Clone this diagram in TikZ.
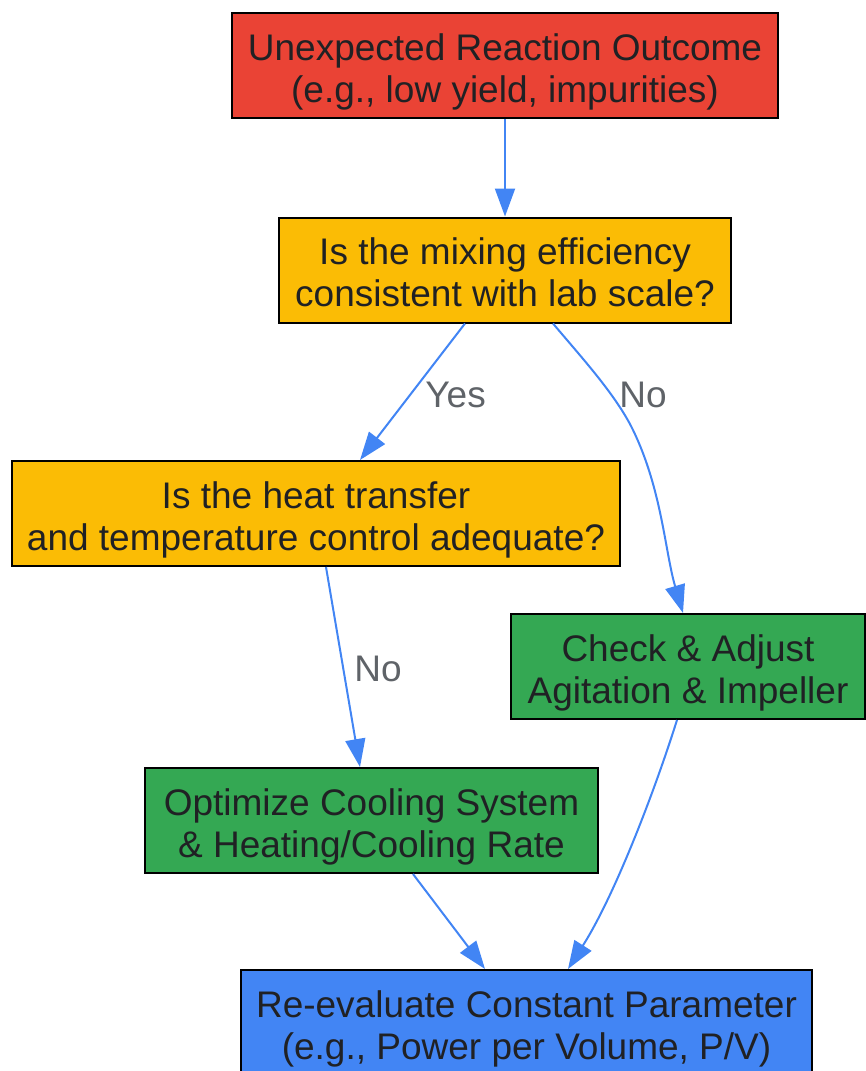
\documentclass[tikz,border=0pt]{standalone}
\usepackage{fontspec}
\setmainfont{Liberation Sans}
\usetikzlibrary{arrows.meta}
\definecolor{outred}{HTML}{EA4335}
\definecolor{askyellow}{HTML}{FBBC05}
\definecolor{fixgreen}{HTML}{34A853}
\definecolor{endblue}{HTML}{4285F4}
\definecolor{boxtext}{HTML}{202124}
\definecolor{edgegray}{HTML}{5F6368}
\begin{document}
\begin{tikzpicture}[x=1pt, y=-1pt,
			every node/.style = {align=center, font=\fontsize{37}{42}\selectfont},
			box/.style = {draw=black, line width=2pt, text=boxtext, inner sep=0pt,
				minimum height=105pt, text height=80pt, text depth=7pt},
			link/.style = {draw=endblue, line width=2pt, -{Triangle[length=28pt, width=20pt]}},
			edgelabel/.style = {text=edgegray, inner sep=0pt}]
			
			\useasboundingbox (0,0) rectangle (865,1071);
			
			\node[box, fill=outred, minimum width=546pt] (outcome) at (505,65.5) {Unexpected Reaction Outcome\\(e.g., low yield, impurities)};
			\node[box, fill=askyellow, minimum width=452pt] (mixing) at (505,270) {Is the mixing efficiency\\consistent with lab scale?};
			\node[box, fill=askyellow, minimum width=608pt] (heat) at (316,513.5) {Is the heat transfer\\and temperature control adequate?};
			\node[box, fill=fixgreen, minimum width=354pt] (agitation) at (688,666.5) {Check \& Adjust\\Agitation \& Impeller};
			\node[box, fill=fixgreen, minimum width=453pt] (cooling) at (371.5,820.5) {Optimize Cooling System\\\& Heating/Cooling Rate};
			\node[box, fill=endblue, minimum width=571pt] (reeval) at (526.5,1022.5) {Re-evaluate Constant Parameter\\(e.g., Power per Volume, P/V)};
			
			\draw[link] (outcome) -- (mixing);
			\draw[link] ([xshift=-40pt]mixing.south) -- ([xshift=44pt]heat.north)
				node[edgelabel, pos=0.52, right=14pt] {Yes};
			\draw[link] ([xshift=48pt]mixing.south) .. controls (582,358) and (616,395) .. (633,430)
				node[edgelabel, pos=0.67, right=7pt] {No}
				.. controls (662,490) and (665,552) .. ([xshift=-5pt]agitation.north);
			\draw[link] ([xshift=10pt]heat.south) -- ([xshift=-11.5pt]cooling.north)
				node[edgelabel, pos=0.51, right=10pt] {No};
			\draw[link] ([xshift=41.5pt]cooling.south) -- ([xshift=-41.5pt]reeval.north);
			\draw[link] ([xshift=-11pt]agitation.south) .. controls (655,790) and (615,895) .. ([xshift=41.5pt]reeval.north);
			\end{tikzpicture}
\end{document}
